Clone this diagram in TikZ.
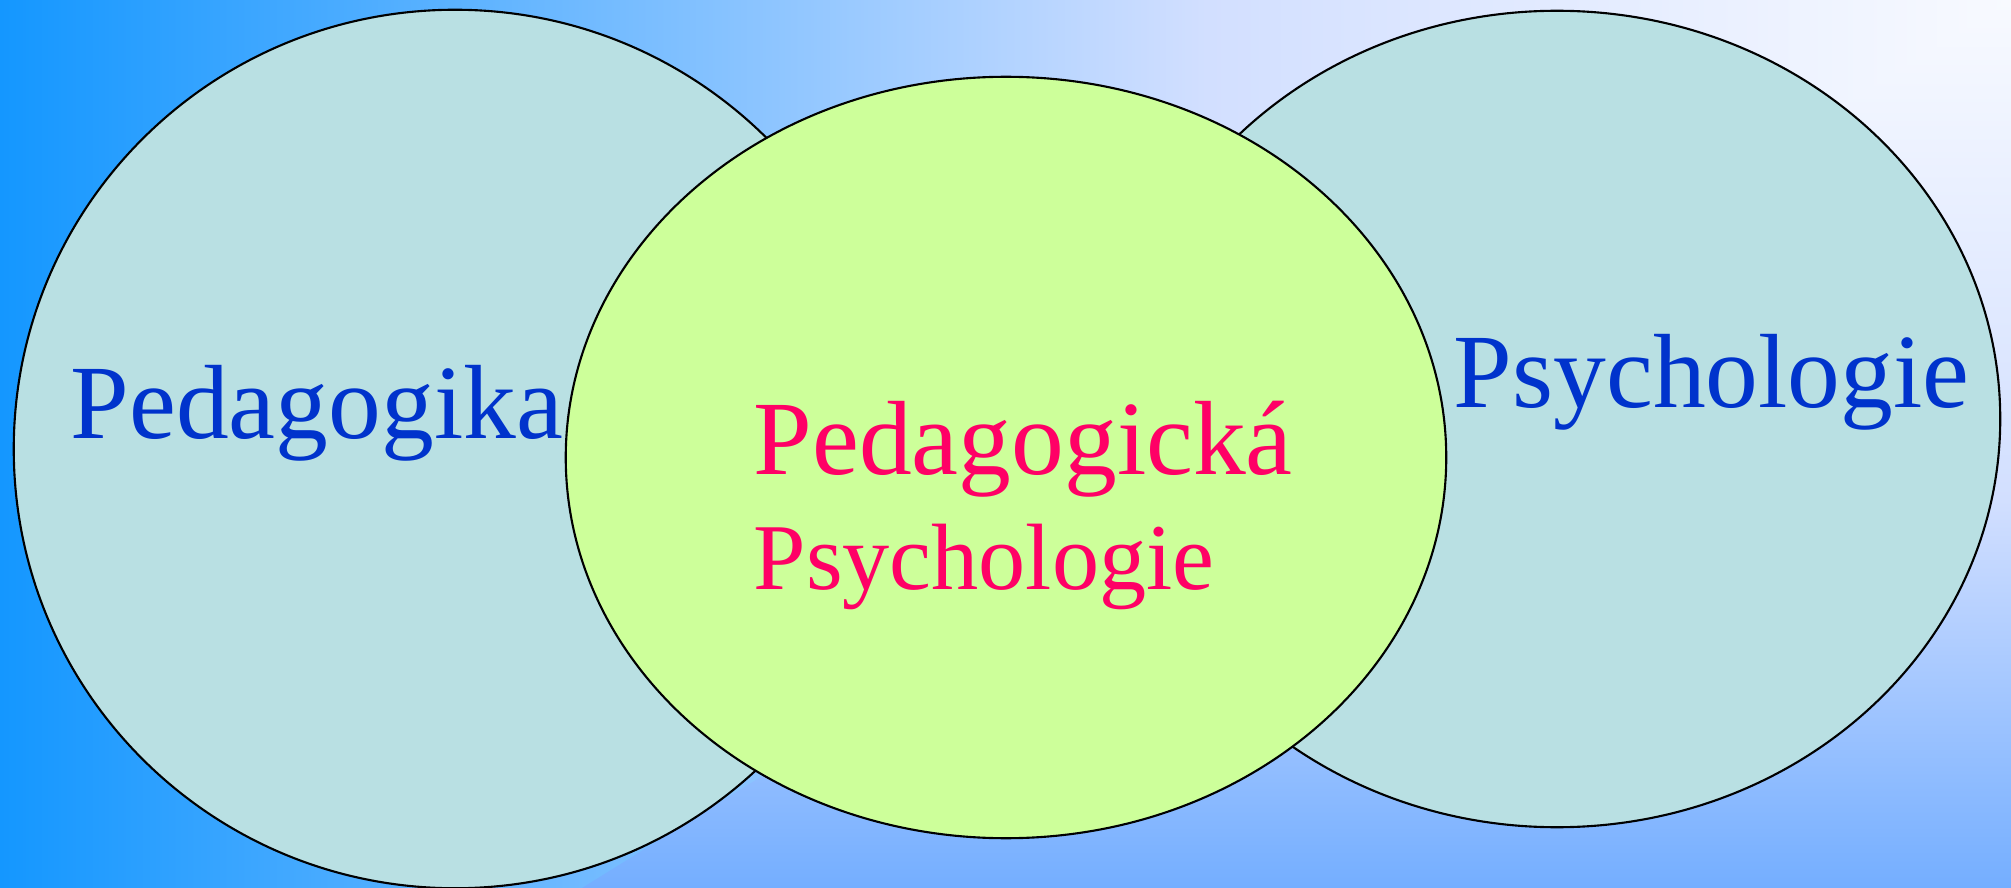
\documentclass[tikz,border=0pt]{standalone}
\usepackage{fontspec}
\setmainfont{Liberation Serif}
\usetikzlibrary{shapes.geometric}
\definecolor{bgleft}{HTML}{1497FF}
\definecolor{bgmid}{HTML}{D2DFFF}
\definecolor{bgwhite}{HTML}{F8FAFF}
\definecolor{bgbottom}{HTML}{74AEFF}
\definecolor{sidefill}{HTML}{B9E0E3}
\definecolor{midfill}{HTML}{CDFF9A}
\definecolor{termblue}{HTML}{0033CC}
\definecolor{termpink}{HTML}{FF0066}
\tikzset{
  oval/.style={ellipse, draw=black, line width=0.6pt, inner sep=0pt},
  side/.style={oval, fill=sidefill},                 % outer fields
  core/.style={oval, fill=midfill},                  % overlap field
  term/.style={anchor=base west, inner sep=0pt, font=\fontsize{30}{36}\selectfont},
}

\begin{document}
\begin{tikzpicture}[x=0.01cm, y=-0.01cm]
  \useasboundingbox (0,0) rectangle (2011,888);
  % background from the top right corner
  \shade[left color=bgleft, right color=bgmid] (0,0) rectangle (1207,888);
  \shade[left color=bgmid, right color=bgwhite] (1206,0) rectangle (2011,888);
  \begin{scope}
    \clip (2011,0) -- (2011,888) -- (582,888) -- cycle;
    \shade[top color=bgwhite, bottom color=bgmid] (582,0) rectangle (2011,501);
    \shade[top color=bgmid, bottom color=bgbottom] (582,500) rectangle (2011,888);
  \end{scope}
  \node[side, minimum width=8.82cm, minimum height=8.78cm] (ped) at (455,449) {};
  \node[side, minimum width=8.86cm, minimum height=8.16cm] (psy) at (1557,419) {};
  \node[core, minimum width=8.80cm, minimum height=7.61cm] (pedpsy) at (1006,457.5) {};
  \node[term, text=termblue] (pedlbl) at (70,439) {Pedagogika};
  \node[term, text=termblue] (psylbl) at (1453,408) {Psychologie};
  \node[term, text=termpink] (pplbl) at (753,475) {Pedagogická};
  \node[term, text=termpink, font=\fontsize{26.8}{32}\selectfont] (pplbl2) at (753,590) {Psychologie};
\end{tikzpicture}
\end{document}
